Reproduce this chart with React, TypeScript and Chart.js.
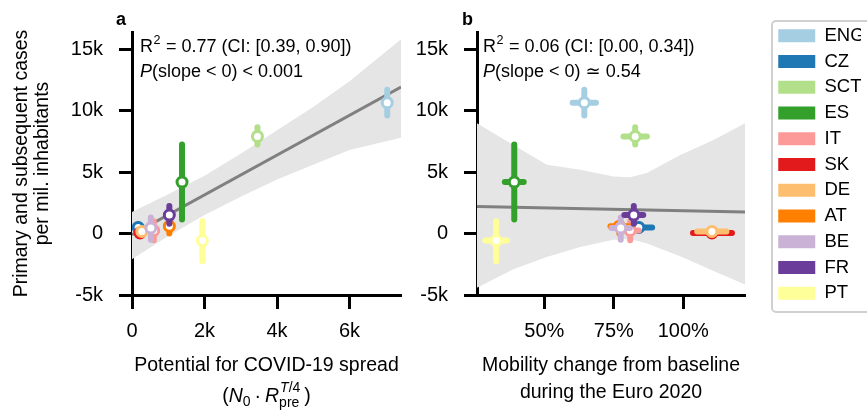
import React, { useEffect, useRef } from 'react';
import { Chart, registerables } from 'chart.js';

Chart.register(...registerables);

// ---------- data ----------
const countries = ['ENG', 'CZ', 'SCT', 'ES', 'IT', 'SK', 'DE', 'AT', 'BE', 'FR', 'PT'];
const colors = ['#a6cee3', '#1f78b4', '#b2df8a', '#33a02c', '#fb9a99', '#e31a1c', '#fdbf6f', '#ff7f00', '#cab2d6', '#6a3d9a', '#ffff99'];

// primary and subsequent cases per mil. inhabitants (median, lower, upper)
const cases = [10650, 500, 7900, 4190, 250, 50, 170, 600, 460, 1500, -570];
const casesLo = [9600, 250, 7250, 1150, -550, -100, 0, 0, -500, 800, -2250];
const casesHi = [11700, 750, 8650, 7250, 1000, 200, 350, 750, 1300, 2250, 1000];

// panel a: potential for spread
const potential = [7040, 170, 3460, 1380, 600, 220, 270, 1030, 520, 1030, 1940];

// panel b: mobility change (%)
const mobility = [64.4, 84, 82.7, 39.2, 80.9, 110.3, 110.3, 77, 77.5, 82.2, 32.7];
const mobilityLo = [60.2, 79, 78.5, 35.8, 78, 103.5, 105, 73.8, 74.2, 78.8, 28.8];
const mobilityHi = [68.6, 88.8, 86.9, 42.6, 84, 117.5, 115.5, 80.5, 80.8, 85.6, 36.6];

// regression fit + credible band, panel a
const fitAx = [0, 7420];
const fitAy = [-100, 11920];
const bandAx = [0, 1000, 2000, 3000, 4000, 5000, 6000, 7420];
const bandAlo = [-2100, -200, 1500, 3000, 4400, 5600, 6800, 7800];
const bandAhi = [1750, 3200, 4700, 6500, 8400, 10300, 12400, 15800];

// regression fit + credible band, panel b
const fitBx = [25.8, 122.2];
const fitBy = [2210, 1760];
const bandBx = [25.8, 38.9, 50.9, 62.9, 74.9, 80.9, 86.9, 98.9, 110.9, 122.2];
const bandBlo = [-4400, -2900, -1900, -1100, -500, -450, -800, -1850, -3050, -4150];
const bandBhi = [8970, 7210, 5590, 5190, 4650, 4590, 4920, 6400, 7620, 8970];

// ticks
const yTicks = [-5000, 0, 5000, 10000, 15000];
const xTicksA = [0, 2000, 4000, 6000];
const xTicksB = [50, 75, 100];

// texts
const r2A = ' = 0.77 (CI: [0.39, 0.90])';
const pA = '(slope < 0) < 0.001';
const r2B = ' = 0.06 (CI: [0.00, 0.34])';
const pB = '(slope < 0) \u2243 0.54';
const yTitle = ['Primary and subsequent cases', 'per mil. inhabitants'];
const xTitleA = 'Potential for COVID-19 spread';
const xTitleB = ['Mobility change from baseline', 'during the Euro 2020'];

// ---------- helpers ----------
const FAMILY = "'Liberation Sans', Arial, 'DejaVu Sans', sans-serif";
const TICK_SIZE = 20;
const TITLE_SIZE = 19.5;
const B_LEFT = 400; // page x of canvas B
const fmtK = (v: number) => (v === 0 ? '0' : `${v / 1000}k`);

function bandDatasets(xs: number[], lo: number[], hi: number[], fx: number[], fy: number[]) {
  return [
    {
      label: 'band-lo',
      data: xs.map((x, i) => ({ x, y: lo[i] })),
      showLine: true,
      borderWidth: 0,
      borderColor: 'rgba(0,0,0,0)',
      pointRadius: 0,
      fill: false,
      order: 1000,
    },
    {
      label: 'band-hi',
      data: xs.map((x, i) => ({ x, y: hi[i] })),
      showLine: true,
      borderWidth: 0,
      borderColor: 'rgba(0,0,0,0)',
      pointRadius: 0,
      fill: '-1',
      backgroundColor: '#e5e5e5',
      order: 999,
    },
    {
      label: 'fit',
      data: fx.map((x, i) => ({ x, y: fy[i] })),
      showLine: true,
      borderWidth: 3,
      borderColor: '#808080',
      pointRadius: 0,
      fill: false,
      order: 998,
    },
  ];
}

function countryDatasets(xv: number[]) {
  return countries.map((c, i) => ({
    label: c,
    data: [{ x: xv[i], y: cases[i] }],
    pointRadius: 5,
    pointHoverRadius: 5,
    pointBorderWidth: 3,
    pointBackgroundColor: '#ffffff',
    pointBorderColor: colors[i],
    backgroundColor: colors[i],
    borderColor: colors[i],
    order: 100 - i,
    errIdx: i,
  }));
}

function errorBarPlugin(xv: number[], xLo: number[] | null, xHi: number[] | null) {
  return {
    id: 'errbars',
    beforeDatasetDraw(chart: any, args: any) {
      const ds: any = chart.data.datasets[args.index];
      if (ds.errIdx === undefined) return;
      const i = ds.errIdx;
      const { ctx, chartArea, scales } = chart;
      const xs = scales.x;
      const ys = scales.y;
      ctx.save();
      ctx.beginPath();
      ctx.rect(chartArea.left, chartArea.top, chartArea.right - chartArea.left, chartArea.bottom - chartArea.top);
      ctx.clip();
      ctx.strokeStyle = colors[i];
      ctx.lineWidth = 6;
      ctx.lineCap = 'round';
      const cx = xs.getPixelForValue(xv[i]);
      const cy = ys.getPixelForValue(cases[i]);
      ctx.beginPath();
      ctx.moveTo(cx, ys.getPixelForValue(casesLo[i]));
      ctx.lineTo(cx, ys.getPixelForValue(casesHi[i]));
      ctx.stroke();
      if (xLo && xHi) {
        ctx.beginPath();
        ctx.moveTo(xs.getPixelForValue(xLo[i]), cy);
        ctx.lineTo(xs.getPixelForValue(xHi[i]), cy);
        ctx.stroke();
      }
      ctx.restore();
    },
  };
}

function annotPlugin(label: string, labelX: number, textX: number, r2: string, p: string) {
  return {
    id: 'annot',
    afterDraw(chart: any) {
      const ctx = chart.ctx;
      ctx.save();
      ctx.fillStyle = '#000';
      ctx.textAlign = 'left';
      ctx.textBaseline = 'alphabetic';
      ctx.font = `bold 18px ${FAMILY}`;
      ctx.fillText(label, labelX, 25);
      let x = textX;
      ctx.font = `18px ${FAMILY}`;
      ctx.fillText('R', x, 52);
      x += ctx.measureText('R').width + 0.5;
      ctx.font = `12.6px ${FAMILY}`;
      ctx.fillText('2', x, 44);
      x += ctx.measureText('2').width + 0.5;
      ctx.font = `18px ${FAMILY}`;
      ctx.fillText(r2, x, 52);
      x = textX;
      ctx.font = `italic 18px ${FAMILY}`;
      ctx.fillText('P', x, 77);
      x += ctx.measureText('P').width;
      ctx.font = `18px ${FAMILY}`;
      ctx.fillText(p, x, 77);
      ctx.restore();
    },
  };
}

const mathLabelPlugin = {
  id: 'mathLabel',
  afterDraw(chart: any) {
    const ctx = chart.ctx;
    const area = chart.chartArea;
    const cx = (area.left + area.right) / 2;
    const base = 402;
    const big = `${TITLE_SIZE}px ${FAMILY}`;
    const bigI = `italic ${TITLE_SIZE}px ${FAMILY}`;
    const sm = `14px ${FAMILY}`;
    const smI = `italic 14px ${FAMILY}`;
    ctx.save();
    ctx.fillStyle = '#000';
    ctx.textAlign = 'left';
    ctx.textBaseline = 'alphabetic';
    const w = (f: string, t: string) => {
      ctx.font = f;
      return ctx.measureText(t).width;
    };
    const wOpen = w(big, '(');
    const wN = w(bigI, 'N');
    const w0 = w(sm, '0');
    const wDot = w(big, '\u00b7');
    const wR = w(bigI, 'R');
    const wT = w(smI, 'T');
    const wSl = w(sm, '/4');
    const wPre = w(sm, 'pre');
    const wClose = w(big, ')');
    const gap = 4;
    const total = wOpen + wN + w0 + gap + wDot + gap + wR + Math.max(wT + wSl, wPre + 1) + gap + wClose;
    let x = cx - total / 2;
    ctx.font = big; ctx.fillText('(', x, base); x += wOpen;
    ctx.font = bigI; ctx.fillText('N', x, base); x += wN;
    ctx.font = sm; ctx.fillText('0', x, base + 4); x += w0 + gap;
    ctx.font = big; ctx.fillText('\u00b7', x, base); x += wDot + gap;
    ctx.font = bigI; ctx.fillText('R', x, base); x += wR;
    ctx.font = smI; ctx.fillText('T', x + 1, base - 10);
    ctx.font = sm; ctx.fillText('/4', x + 1 + wT, base - 10);
    ctx.font = sm; ctx.fillText('pre', x, base + 5);
    x += Math.max(wT + wSl, wPre + 1) + gap;
    ctx.font = big; ctx.fillText(')', x, base);
    ctx.restore();
  },
};

const legendPosPlugin = {
  id: 'legendPos',
  afterLayout(chart: any) {
    const lg = chart.legend;
    if (!lg) return;
    const dx = 771 - B_LEFT - lg.left;
    lg.left += dx;
    lg.right += dx;
    lg.top = 19.2;
  },
  afterDraw(chart: any) {
    const lg = chart.legend;
    if (!lg) return;
    const ctx = chart.ctx;
    ctx.save();
    ctx.strokeStyle = '#d0d0d0';
    ctx.lineWidth = 2;
    ctx.beginPath();
    (ctx as any).roundRect(lg.left + 1, 21, 140, 291, 4);
    ctx.stroke();
    ctx.restore();
  },
};

function yScale(width: number, withTitle: boolean) {
  return {
    type: 'linear',
    min: -5000,
    max: 16400,
    afterBuildTicks: (s: any) => {
      s.ticks = yTicks.map((v) => ({ value: v }));
    },
    afterFit: (s: any) => {
      s.width = width;
    },
    grid: { display: true, drawOnChartArea: false, drawTicks: true, tickLength: 13, tickWidth: 3, tickColor: '#000' },
    border: { display: true, color: '#000', width: 3 },
    ticks: { color: '#000', padding: 16, autoSkip: false, font: { size: TICK_SIZE, family: FAMILY }, callback: (v: any) => fmtK(Number(v)) },
    title: withTitle
      ? { display: true, text: yTitle, color: '#000', font: { size: TITLE_SIZE, family: FAMILY, lineHeight: 21 / TITLE_SIZE }, padding: { top: 11.5, bottom: 0 } }
      : { display: false },
  };
}

function xScale(min: number, max: number, ticks: number[], fmt: (v: number) => string, title: any, padBottom: number) {
  return {
    type: 'linear',
    min,
    max,
    afterBuildTicks: (s: any) => {
      s.ticks = ticks.map((v) => ({ value: v }));
    },
    afterFit: (s: any) => {
      s.height = 116;
    },
    grid: { display: true, drawOnChartArea: false, drawTicks: true, tickLength: 14, tickWidth: 3, tickColor: '#000' },
    border: { display: true, color: '#000', width: 3 },
    ticks: { color: '#000', padding: 10, autoSkip: false, maxRotation: 0, font: { size: TICK_SIZE, family: FAMILY }, callback: (v: any) => fmt(Number(v)) },
    title: { display: true, text: title, color: '#000', font: { size: TITLE_SIZE, family: FAMILY, lineHeight: 27 / TITLE_SIZE }, padding: { top: 0, bottom: padBottom } },
  };
}

export default function App() {
  const refA = useRef<HTMLCanvasElement>(null);
  const refB = useRef<HTMLCanvasElement>(null);

  useEffect(() => {
    Chart.defaults.font.family = FAMILY;
    const chartA = new Chart(refA.current as HTMLCanvasElement, {
      type: 'scatter',
      data: {
        datasets: [...bandDatasets(bandAx, bandAlo, bandAhi, fitAx, fitAy), ...countryDatasets(potential)] as any,
      },
      options: {
        responsive: false,
        animation: false,
        events: [],
        layout: { padding: { top: 32, right: 19, bottom: 0, left: 0 } },
        scales: {
          x: xScale(0, 7420, xTicksA, fmtK, xTitleA, 31.5) as any,
          y: yScale(132, true) as any,
        },
        plugins: { legend: { display: false }, tooltip: { enabled: false } },
      },
      plugins: [errorBarPlugin(potential, null, null), annotPlugin('a', 116, 140, r2A, pA), mathLabelPlugin],
    });

    const chartB = new Chart(refB.current as HTMLCanvasElement, {
      type: 'scatter',
      data: {
        datasets: [...bandDatasets(bandBx, bandBlo, bandBhi, fitBx, fitBy), ...countryDatasets(mobility)] as any,
      },
      options: {
        responsive: false,
        animation: false,
        events: [],
        layout: { padding: { top: 32, right: 65, bottom: 0, left: 0 } },
        scales: {
          x: xScale(25.8, 122.2, xTicksB, (v) => `${v}%`, xTitleB, 4.5) as any,
          y: yScale(477 - B_LEFT, false) as any,
        },
        plugins: {
          tooltip: { enabled: false },
          legend: {
            display: true,
            position: 'right',
            align: 'start',
            maxWidth: 90,
            labels: {
              boxWidth: 37,
              boxHeight: 13,
              padding: 7.25,
              color: '#000',
              font: { size: 18.5, family: FAMILY },
              generateLabels: () =>
                countries.map((c, i) => ({
                  text: c,
                  fillStyle: colors[i],
                  strokeStyle: colors[i],
                  lineWidth: 0,
                  hidden: false,
                  datasetIndex: 3 + i,
                })),
            },
          } as any,
        },
      },
      plugins: [errorBarPlugin(mobility, mobilityLo, mobilityHi), annotPlugin('b', 462 - B_LEFT, 483 - B_LEFT, r2B, pB), legendPosPlugin],
    });

    return () => {
      chartA.destroy();
      chartB.destroy();
    };
  }, []);

  return (
    <div style={{ position: 'fixed', left: 0, top: 0, width: 867, height: 411, overflow: 'hidden', background: '#ffffff' }}>
      <canvas ref={refA} width={420} height={411} style={{ position: 'absolute', left: 0, top: 0, width: 420, height: 411 }} />
      <canvas ref={refB} width={500} height={411} style={{ position: 'absolute', left: B_LEFT, top: 0, width: 500, height: 411 }} />
    </div>
  );
}
